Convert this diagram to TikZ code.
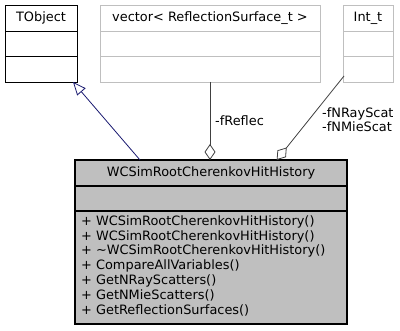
\documentclass[tikz,border=0pt]{standalone}
\usepackage{fontspec}
\setmainfont{DejaVu Sans}
\usetikzlibrary{calc,arrows.meta}
\definecolor{edgeblue}{HTML}{191970}
\definecolor{boxgray}{HTML}{BFBFBF}
\definecolor{linegray}{HTML}{404040}
\tikzset{
	classbox/.style = {draw = black, fill = white, line width = .9pt, inner sep = 0, outer sep = 0},
	extbox/.style = {draw = boxgray, fill = white, line width = .9pt, inner sep = 0, outer sep = 0},
	mainbox/.style = {draw = black, fill = boxgray, line width = 1.1pt, inner sep = 0, outer sep = 0},
	inherit/.style = {draw = edgeblue, line width = .8pt, -{Triangle[open, fill = white, length = 13pt, width = 11pt]}},
	member/.style = {draw = linegray, line width = .8pt, -{Diamond[fill = white, length = 16pt, width = 11pt]}},
}
\begin{document}
\begin{tikzpicture}[x = 1pt, y = -1pt, font = \fontsize{12.9}{14.2}\selectfont]
		\useasboundingbox (0, 0) rectangle (400, 331);
		% the three used classes along the top
		\foreach \name/\look/\rule/\x/\w/\title in {tobject/classbox/black/5/72/TObject, vector/extbox/boxgray/100/220/{vector< ReflectionSurface\_t >}, intt/extbox/boxgray/343/50/Int\_t}{
			\node[\look, minimum width = \w, minimum height = 77, anchor = north west] (\name) at (\x, 5) {};
			\node (\name-title) at ($(\name.north) + (0, 13)$) {\title};
			\draw[\rule, line width = .9pt] ($(\name.north west) + (0, 26)$) -- ($(\name.north east) + (0, 26)$);
			\draw[\rule, line width = .9pt] ($(\name.north west) + (0, 51.5)$) -- ($(\name.north east) + (0, 51.5)$);}
		% the class itself
		\node[mainbox, minimum width = 272, minimum height = 164, anchor = north west] (hist) at (75, 160) {};
		\node (hist-title) at ($(hist.north) + (0, 13)$) {WCSimRootCherenkovHitHistory};
		\draw[line width = 1.1pt] ($(hist.north west) + (0, 26)$) -- ($(hist.north east) + (0, 26)$);
		\draw[line width = 1.1pt] ($(hist.north west) + (0, 51)$) -- ($(hist.north east) + (0, 51)$);
		\foreach \m [count = \i] in {WCSimRootCherenkovHitHistory(), WCSimRootCherenkovHitHistory(), \textasciitilde WCSimRootCherenkovHitHistory(), CompareAllVariables(), GetNRayScatters(), GetNMieScatters(), GetReflectionSurfaces()}{
			\node[anchor = west, inner sep = 0] (method\i) at (81, {207.3 + 14.7 * \i}) {+ \m};}
		% relations
		\coordinate (base) at ($(hist.north west) + (65, 0)$);
		\draw[inherit] (base) -- ($(tobject.south east) + (-4, 0)$);
		\draw[member] (vector.south) -- (hist.north -| vector.south);
		\coordinate (scat-start) at ($(intt.south west) + (1, -6)$);
		\coordinate (scat-end) at (276.7, 160);
		\draw[member] (scat-start) -- (scat-end);
		\node[anchor = west, inner sep = 0] (reflec-label) at (215, 120.5) {-fReflec};
		\node[anchor = west, align = left, inner sep = 0] (scat-label) at (322, 120) {-fNRayScat\\-fNMieScat};
		\end{tikzpicture}
\end{document}
